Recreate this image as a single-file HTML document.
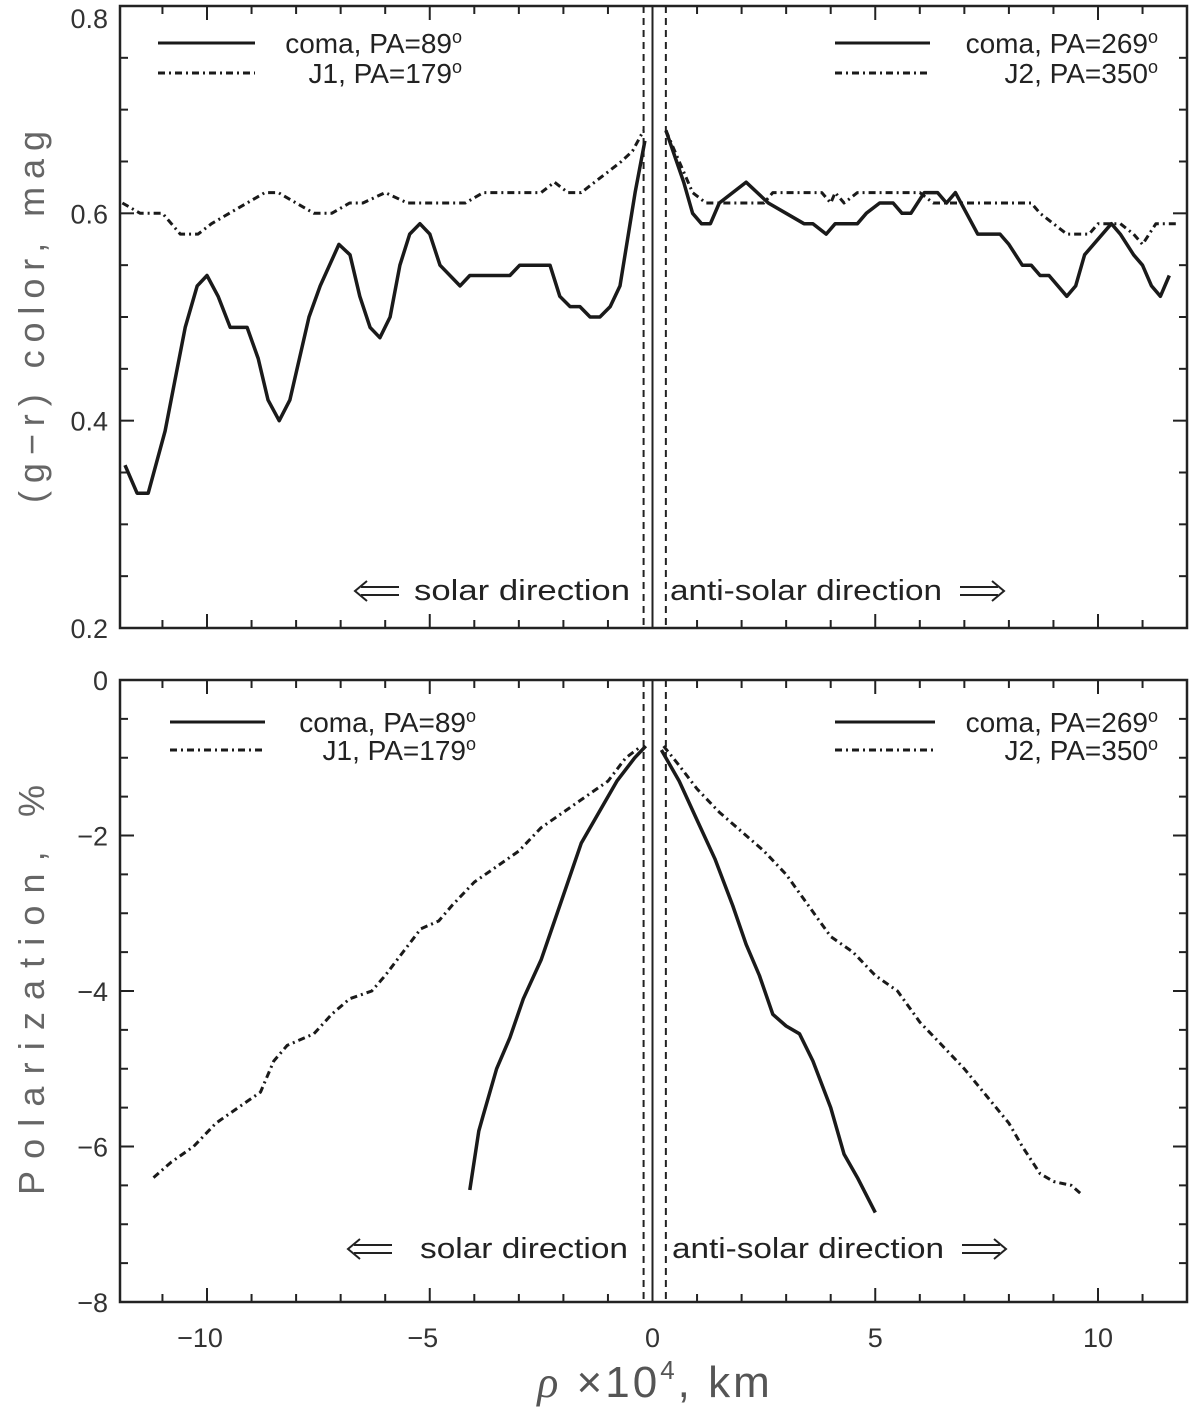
<!DOCTYPE html>
<html><head><meta charset="utf-8"><style>
html,body{margin:0;padding:0;background:#fff;}
svg{display:block;font-family:"Liberation Sans","DejaVu Sans",sans-serif;}
</style></head><body>
<svg id="chart" width="1200" height="1420" viewBox="0 0 1200 1420" xmlns="http://www.w3.org/2000/svg"></svg>
<script>
// ---- data ----
const xTicksMajor = [-10, -5, 0, 5, 10];
const topYTicks = [0.2, 0.4, 0.6, 0.8];
const botYTicks = [0, -2, -4, -6, -8];
const topComaLeftX = [-11.84,-11.57,-11.32,-10.94,-10.49,-10.22,-10.0,-9.75,-9.48,-9.1,-8.85,-8.63,-8.38,-8.14,-7.71,-7.46,-7.04,-6.79,-6.57,-6.34,-6.12,-5.89,-5.67,-5.45,-5.22,-5.0,-4.77,-4.32,-4.1,-3.2,-2.98,-2.3,-2.08,-1.85,-1.63,-1.4,-1.18,-0.95,-0.73,-0.39,-0.17];
const topComaLeftY = [0.357,0.33,0.33,0.39,0.49,0.53,0.54,0.52,0.49,0.49,0.46,0.42,0.40,0.42,0.50,0.53,0.57,0.56,0.52,0.49,0.48,0.50,0.55,0.58,0.59,0.58,0.55,0.53,0.54,0.54,0.55,0.55,0.52,0.51,0.51,0.50,0.50,0.51,0.53,0.62,0.67];
const topJ1X = [-11.9,-11.5,-11.0,-10.6,-10.2,-9.9,-9.5,-9.1,-8.7,-8.4,-8.0,-7.6,-7.2,-6.8,-6.5,-6.0,-5.5,-5.0,-4.5,-4.2,-3.8,-3.3,-2.8,-2.5,-2.2,-1.9,-1.6,-1.3,-1.0,-0.7,-0.45,-0.2];
const topJ1Y = [0.61,0.60,0.60,0.58,0.58,0.59,0.60,0.61,0.62,0.62,0.61,0.60,0.60,0.61,0.61,0.62,0.61,0.61,0.61,0.61,0.62,0.62,0.62,0.62,0.63,0.62,0.62,0.63,0.64,0.65,0.66,0.68];
const topComaRightX = [0.3,0.7,0.9,1.1,1.3,1.5,2.1,2.6,3.0,3.4,3.6,3.9,4.1,4.6,4.8,5.1,5.4,5.6,5.8,6.1,6.4,6.6,6.8,7.3,7.8,8.0,8.3,8.5,8.7,8.9,9.3,9.5,9.7,10.3,10.5,10.8,11.0,11.2,11.4,11.6];
const topComaRightY = [0.68,0.63,0.60,0.59,0.59,0.61,0.63,0.61,0.60,0.59,0.59,0.58,0.59,0.59,0.60,0.61,0.61,0.60,0.60,0.62,0.62,0.61,0.62,0.58,0.58,0.57,0.55,0.55,0.54,0.54,0.52,0.53,0.56,0.59,0.58,0.56,0.55,0.53,0.52,0.54];
const topJ2X = [0.3,0.6,0.9,1.2,2.0,2.5,2.7,3.8,4.0,4.1,4.3,4.6,6.0,6.3,7.0,7.5,8.0,8.5,8.7,9.0,9.3,9.8,10.0,10.5,10.8,11.0,11.3,11.8];
const topJ2Y = [0.68,0.65,0.62,0.61,0.61,0.61,0.62,0.62,0.61,0.62,0.61,0.62,0.62,0.61,0.61,0.61,0.61,0.61,0.60,0.59,0.58,0.58,0.59,0.59,0.58,0.57,0.59,0.59];
const botComaLeftX = [-4.1,-3.9,-3.8,-3.5,-3.2,-2.9,-2.5,-2.2,-1.9,-1.6,-1.2,-0.8,-0.4,-0.15];
const botComaLeftY = [-6.56,-5.8,-5.6,-5.0,-4.6,-4.1,-3.6,-3.1,-2.6,-2.1,-1.7,-1.3,-1.0,-0.85];
const botComaRightX = [0.2,0.6,1.0,1.4,1.8,2.1,2.4,2.7,3.0,3.3,3.6,4.0,4.3,4.6,5.0];
const botComaRightY = [-0.9,-1.3,-1.8,-2.3,-2.9,-3.4,-3.8,-4.3,-4.45,-4.55,-4.9,-5.5,-6.1,-6.4,-6.85];
const botJ1X = [-11.2,-10.8,-10.3,-9.8,-9.3,-8.8,-8.5,-8.2,-7.6,-7.2,-6.8,-6.3,-6.0,-5.6,-5.2,-4.8,-4.5,-4.0,-3.5,-3.0,-2.5,-2.0,-1.5,-1.0,-0.6,-0.25];
const botJ1Y = [-6.4,-6.2,-6.0,-5.7,-5.5,-5.3,-4.9,-4.7,-4.55,-4.3,-4.1,-4.0,-3.8,-3.5,-3.2,-3.1,-2.9,-2.6,-2.4,-2.2,-1.9,-1.7,-1.5,-1.3,-1.0,-0.85];
const botJ2X = [0.25,0.6,1.0,1.5,2.0,2.5,3.0,3.5,4.0,4.5,5.0,5.5,6.0,6.5,7.0,7.5,8.0,8.3,8.7,9.0,9.4,9.6];
const botJ2Y = [-0.85,-1.1,-1.4,-1.7,-1.95,-2.2,-2.5,-2.9,-3.3,-3.5,-3.8,-4.0,-4.4,-4.7,-5.0,-5.35,-5.7,-6.0,-6.35,-6.45,-6.5,-6.6];

// ---- layout ----
const L=120, R=1187;
const xs = v => 652.5 + v*44.55;
const ysTop = v => 628 - (v-0.2)*1036.7;
const ysBot = v => 680 - v*77.75;
const svg = document.getElementById('chart');
const NS='http://www.w3.org/2000/svg';
function mk(tag, attrs, parent){ const e=document.createElementNS(NS,tag); for(const k in attrs) e.setAttribute(k,attrs[k]); (parent||svg).appendChild(e); return e; }
function txt(x,y,s,size,anchor,fill,parent){ const t=mk('text',{x:x,y:y,'font-size':size,'text-anchor':anchor||'start',fill:fill||'#222'},parent); t.textContent=s; return t; }

function panel(name, top, bot, ys, yTicks, yMinorStep, yMin, yMax, fmt){
  const g = mk('g',{});
  
  
  mk('rect',{x:L,y:top,width:R-L,height:bot-top,fill:'none',stroke:'#222','stroke-width':2.5},g);
  for(let v=-11; v<=11; v++){
    const len = (v%5===0)?14:8;
    mk('line',{x1:xs(v),x2:xs(v),y1:bot,y2:bot-len,stroke:'#222','stroke-width':2},g);
    mk('line',{x1:xs(v),x2:xs(v),y1:top,y2:top+len,stroke:'#222','stroke-width':2},g);
  }
  const n = Math.round((yMax-yMin)/yMinorStep);
  for(let i=1;i<n;i++){
    const v = yMin + i*yMinorStep;
    const major = yTicks.some(t=>Math.abs(t-v)<1e-6);
    const len = major?14:8;
    mk('line',{x1:L,x2:L+len,y1:ys(v),y2:ys(v),stroke:'#222','stroke-width':2},g);
    mk('line',{x1:R,x2:R-len,y1:ys(v),y2:ys(v),stroke:'#222','stroke-width':2},g);
  }
  yTicks.forEach(v=>{
    const t=txt(108, Math.max(ys(v)+10, 28), fmt(v), 27, 'end', '#333', g);
    
    
  });
  mk('line',{x1:xs(0),x2:xs(0),y1:top,y2:bot,stroke:'#222','stroke-width':2},g);
  mk('line',{x1:xs(-0.2),x2:xs(-0.2),y1:top,y2:bot,stroke:'#222','stroke-width':2,'stroke-dasharray':'7,5'},g);
  mk('line',{x1:xs(0.3),x2:xs(0.3),y1:top,y2:bot,stroke:'#222','stroke-width':2,'stroke-dasharray':'7,5'},g);
  return g;
}
function series(g, name, X, Y, ys, dashed){
  const d = X.map((x,i)=>(i?'L':'M')+xs(x).toFixed(1)+','+ys(Y[i]).toFixed(1)).join(' ');
  const p = mk('path',{d:d,fill:'none',stroke:'#1a1a1a','stroke-width':dashed?3:3.5,'stroke-linejoin':'round'},g);
  if(dashed) p.setAttribute('stroke-dasharray','7,4,2,4');
  
  
}
function legendEntry(g, name, x1, x2, y, label, tx, dashed){
  const e = mk('g',{},g);
  
  
  const l = mk('line',{x1:x1,x2:x2,y1:y,y2:y,stroke:'#1a1a1a','stroke-width':3},e);
  if(dashed) l.setAttribute('stroke-dasharray','7,4,2,4');
  const t = mk('text',{x:tx,y:y+10,'font-size':28,'text-anchor':'end',fill:'#222'},e);
  t.innerHTML = label + '<tspan font-size="18" dy="-10">o</tspan>';
}
function arrow(g, x1, x2, y, dir){
  const a = mk('g',{},g);
  
  
  const tip = dir<0?x1:x2, tail = dir<0?x2:x1;
  mk('line',{x1:tail,x2:tip+dir*(-6),y1:y-4,y2:y-4,stroke:'#222','stroke-width':2},a);
  mk('line',{x1:tail,x2:tip+dir*(-6),y1:y+4,y2:y+4,stroke:'#222','stroke-width':2},a);
  mk('path',{d:`M${tip-dir*12},${y-10} L${tip},${y} L${tip-dir*12},${y+10}`,fill:'none',stroke:'#222','stroke-width':2},a);
}
function direction(g, y, solarArrowX, solarTextX, solarW, antiTextX, antiW, antiArrowX){
  arrow(g, solarArrowX, solarArrowX+44, y-9, -1);
  const a = mk('text',{x:solarTextX,y:y,'font-size':29,fill:'#222',textLength:solarW,lengthAdjust:'spacingAndGlyphs'},g);
  a.textContent='solar direction';
  
  
  const b = mk('text',{x:antiTextX,y:y,'font-size':29,fill:'#222',textLength:antiW,lengthAdjust:'spacingAndGlyphs'},g);
  b.textContent='anti-solar direction';
  
  
  arrow(g, antiArrowX, antiArrowX+44, y-9, 1);
}

// top panel
const gt = panel('color-panel', 6, 628, ysTop, topYTicks, 0.05, 0.2, 0.8, v=>v.toFixed(1));
series(gt,'coma-pa89-color',topComaLeftX,topComaLeftY,ysTop,false);
series(gt,'j1-pa179-color',topJ1X,topJ1Y,ysTop,true);
series(gt,'coma-pa269-color',topComaRightX,topComaRightY,ysTop,false);
series(gt,'j2-pa350-color',topJ2X,topJ2Y,ysTop,true);
legendEntry(gt,'legend-coma-pa89',158,255,43,'coma, PA=89',462,false);
legendEntry(gt,'legend-j1-pa179',158,255,73,'J1, PA=179',462,true);
legendEntry(gt,'legend-coma-pa269',835,930,43,'coma, PA=269',1158,false);
legendEntry(gt,'legend-j2-pa350',835,930,73,'J2, PA=350',1158,true);
direction(gt, 600, 355, 414, 216, 670, 272, 960);

// bottom panel
const gb = panel('polarization-panel', 680, 1302, ysBot, botYTicks, 0.5, -8, 0, v=>v===0?'0':'\u2212'+Math.abs(v));
series(gb,'coma-pa89-polarization',botComaLeftX,botComaLeftY,ysBot,false);
series(gb,'j1-pa179-polarization',botJ1X,botJ1Y,ysBot,true);
series(gb,'coma-pa269-polarization',botComaRightX,botComaRightY,ysBot,false);
series(gb,'j2-pa350-polarization',botJ2X,botJ2Y,ysBot,true);
legendEntry(gb,'legend-coma-pa89-bottom',170,265,722,'coma, PA=89',476,false);
legendEntry(gb,'legend-j1-pa179-bottom',170,265,750,'J1, PA=179',476,true);
legendEntry(gb,'legend-coma-pa269-bottom',835,935,722,'coma, PA=269',1158,false);
legendEntry(gb,'legend-j2-pa350-bottom',835,935,750,'J2, PA=350',1158,true);
direction(gb, 1258, 348, 420, 208, 672, 272, 962);

// x tick labels
xTicksMajor.forEach(v=>{
  const t = txt(xs(v) - (v<0?7:0), 1347, v<0?'\u2212'+Math.abs(v):String(v), 27, 'middle', '#333');
  
  
});
// axis titles
const t1 = mk('text',{x:0,y:0,'font-size':36,'text-anchor':'middle',fill:'#666',textLength:372,lengthAdjust:'spacing',transform:'translate(44,317) rotate(-90)'});
t1.textContent='(g\u2212r) color, mag';


const t2 = mk('text',{x:0,y:0,'font-size':36,'text-anchor':'middle',fill:'#666',textLength:410,lengthAdjust:'spacing',transform:'translate(44,990) rotate(-90)'});
t2.textContent='Polarization, %';


const t3 = mk('text',{x:655,y:1397,'font-size':44,'text-anchor':'middle',fill:'#555','letter-spacing':'3'});
t3.innerHTML='<tspan font-family="Liberation Serif" font-style="italic">\u03C1</tspan> \u00D710<tspan font-size="26" dy="-18">4</tspan><tspan dy="18">,  km</tspan>';


</script>
</body></html>
